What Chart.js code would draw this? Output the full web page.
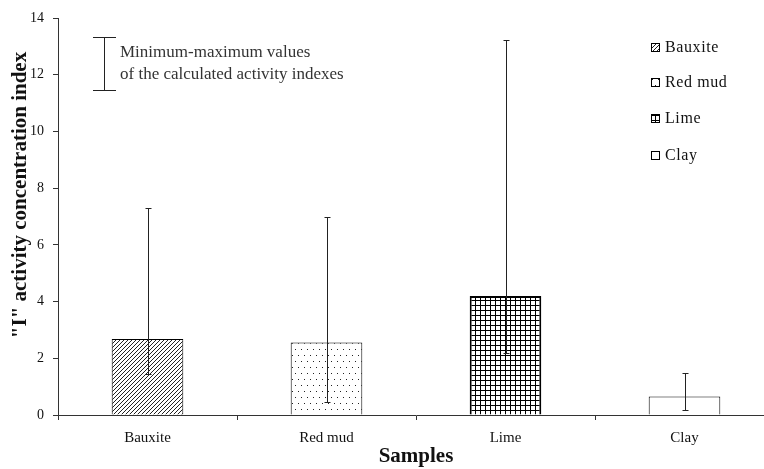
<!DOCTYPE html>
<html><head><meta charset="utf-8">
<script src="https://cdn.jsdelivr.net/npm/chart.js@4"></script>
<style>html,body{margin:0;padding:0;overflow:hidden;background:#fff;width:764px;height:469px}
canvas{display:block}</style></head>
<body><canvas id="c" width="780" height="469"></canvas>
<script>
const categories = ['Bauxite', 'Red mud', 'Lime', 'Clay'];
const meanValues = [2.68, 2.56, 4.20, 0.65];
const minValues = [1.46, 0.47, 2.20, 0.18];
const maxValues = [7.30, 6.99, 13.22, 1.49];
const yMin = 0, yMax = 14, yStep = 2;
const legendLabels = ['Bauxite', 'Red mud', 'Lime', 'Clay'];
const noteLines = ['Minimum-maximum values', 'of the calculated activity indexes'];
const yTitle = '"I" activity concentration index';
const xTitle = 'Samples';

const SERIF = '"Liberation Serif", "Times New Roman", serif';

function makePattern(kind) {
  const t = document.createElement('canvas');
  const g = t.getContext('2d');
  if (kind === 'hatch') {
    t.width = 4; t.height = 4;
    g.fillStyle = '#fff'; g.fillRect(0, 0, 4, 4);
    g.strokeStyle = '#222'; g.lineWidth = 1;
    g.beginPath();
    g.moveTo(-1, 5); g.lineTo(5, -1);
    g.moveTo(-1, 1); g.lineTo(1, -1);
    g.moveTo(3, 5); g.lineTo(5, 3);
    g.stroke();
  } else if (kind === 'dots') {
    t.width = 6; t.height = 12;
    g.fillStyle = '#fff'; g.fillRect(0, 0, 6, 12);
    g.fillStyle = '#222';
    g.fillRect(1, 1, 1, 1);
    g.fillRect(4, 7, 1, 1);
  } else if (kind === 'grid') {
    t.width = 5; t.height = 5;
    g.fillStyle = '#fff'; g.fillRect(0, 0, 5, 5);
    g.fillStyle = '#000';
    g.fillRect(0, 0, 5, 1);
    g.fillRect(0, 0, 1, 5);
  } else {
    t.width = 4; t.height = 4;
    g.fillStyle = '#fff'; g.fillRect(0, 0, 4, 4);
  }
  return document.getElementById('c').getContext('2d').createPattern(t, 'repeat');
}
const fills = [makePattern('hatch'), makePattern('dots'), makePattern('grid'), makePattern('plain')];
const borderWidths = [1, 1, 2, 1];

const extras = {
  id: 'extras',
  afterDatasetsDraw(chart) {
    const ctx = chart.ctx;
    const xs = chart.scales.x, ys = chart.scales.y;
    ctx.save();
    // error bars
    ctx.strokeStyle = '#222';
    ctx.lineWidth = 1;
    for (let i = 0; i < categories.length; i++) {
      const x = Math.round(xs.getPixelForValue(i)) + 0.5;
      const yt = Math.round(ys.getPixelForValue(maxValues[i])) + 0.5;
      const yb = Math.round(ys.getPixelForValue(minValues[i])) + 0.5;
      ctx.beginPath();
      ctx.moveTo(x, yt); ctx.lineTo(x, yb);
      ctx.moveTo(x - 3, yt); ctx.lineTo(x + 3, yt);
      ctx.moveTo(x - 3, yb); ctx.lineTo(x + 3, yb);
      ctx.stroke();
    }
    // min-max key
    ctx.beginPath();
    ctx.moveTo(104.5, 37); ctx.lineTo(104.5, 91);
    ctx.moveTo(93, 37.5); ctx.lineTo(116, 37.5);
    ctx.moveTo(93, 90.5); ctx.lineTo(116, 90.5);
    ctx.stroke();
    ctx.fillStyle = '#333';
    ctx.font = '17px ' + SERIF;
    ctx.textBaseline = 'middle';
    ctx.textAlign = 'left';
    ctx.fillText(noteLines[0], 120, 53);
    ctx.fillText(noteLines[1], 120, 75);
    // legend
    const rows = [48, 83, 119, 156];
    ctx.font = '16px ' + SERIF;
    ctx.letterSpacing = '0.6px';
    for (let i = 0; i < legendLabels.length; i++) {
      const y = rows[i];
      ctx.fillStyle = fills[i];
      ctx.fillRect(652, y - 4, 8, 8);
      ctx.strokeStyle = '#000';
      ctx.lineWidth = 1;
      ctx.strokeRect(651.5, y - 4.5, 8, 8);
      ctx.fillStyle = '#111';
      ctx.fillText(legendLabels[i], 665, y);
    }
    ctx.letterSpacing = '0px';
    // y title
    ctx.translate(21, 195);
    ctx.rotate(-Math.PI / 2);
    ctx.textAlign = 'center';
    ctx.font = 'bold 21px ' + SERIF;
    ctx.fillStyle = '#111';
    ctx.fillText(yTitle, 0, 0);
    ctx.restore();
  }
};

new Chart(document.getElementById('c'), {
  type: 'bar',
  data: {
    labels: categories,
    datasets: [{
      data: meanValues,
      backgroundColor: fills,
      borderColor: '#000',
      borderWidth: borderWidths,
      barPercentage: 0.4,
      categoryPercentage: 1
    }]
  },
  options: {
    responsive: false,
    animation: false,
    devicePixelRatio: 1,
    layout: { padding: { top: 18, right: 6, left: 0, bottom: 0 } },
    plugins: { legend: { display: false }, tooltip: { enabled: false } },
    scales: {
      x: {
        offset: true,
        grid: { display: true, offset: true, drawOnChartArea: false, drawTicks: true, tickLength: 5, color: '#333' },
        border: { color: '#333', width: 1 },
        ticks: { color: '#111', padding: 9, font: { family: SERIF, size: 15 } },
        title: { display: true, text: xTitle, color: '#111', font: { family: SERIF, size: 21, weight: 'bold' }, padding: { top: 0, bottom: 0 } },
        afterFit(s) { s.height = 54; }
      },
      y: {
        min: yMin, max: yMax,
        grid: { display: true, drawOnChartArea: false, drawTicks: true, tickLength: 5, color: '#333' },
        border: { color: '#333', width: 1 },
        ticks: { stepSize: yStep, color: '#111', padding: 9, font: { family: SERIF, size: 14 } },
        afterFit(s) { s.width = 58; }
      }
    }
  },
  plugins: [extras]
});
</script>
</body></html>
